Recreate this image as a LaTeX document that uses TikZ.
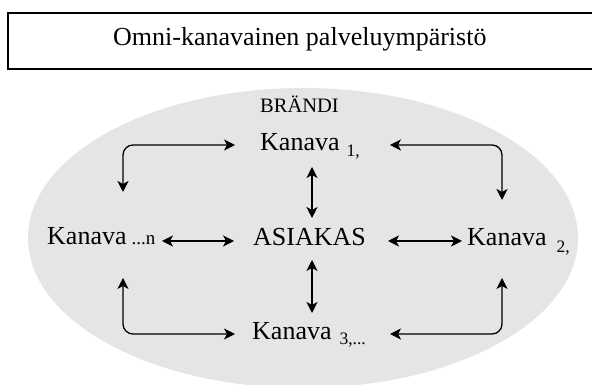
\documentclass[tikz,border=0pt]{standalone}
\usepackage{fontspec}
\setmainfont{Liberation Serif}
\usetikzlibrary{arrows.meta}
\begin{document}
\begin{tikzpicture}[x=1pt,y=1pt,
  lbl/.style={inner sep=0pt,anchor=base west,font=\fontsize{26}{30}\selectfont},
  link/.style={line width=1.3pt,{Stealth[length=11pt,width=11pt,inset=3pt]}-{Stealth[length=11pt,width=11pt,inset=3pt]}},
  cornerlink/.style={link,rounded corners=10pt}]
\newcommand{\lowered}[3]{\hspace{#1pt}\raisebox{-#2pt}{\fontsize{17.5}{20}\selectfont #3}}
\useasboundingbox (0,0) rectangle (592,385);
% title frame
\draw[line width=1.4pt] (8,316) rectangle (600,372);
\node[lbl] (title) at (113,339) {Omni-kanavainen palveluympäristö};
% brand area
\fill[gray!20] (303,147) ellipse [x radius=275, y radius=150];
\node[lbl,font=\fontsize{20.5}{24}\selectfont] (brand) at (260,272) {BRÄNDI};
% channels and customer
\node[lbl] (k1) at (260,234) {Kanava\lowered{7}{6}{1,}};
\node[lbl] (cust) at (253,139) {ASIAKAS};
\node[lbl] (kn) at (47,140) {Kanava\hspace{5pt}{\fontsize{19}{22}\selectfont ...n}};
\node[lbl] (k2) at (467,139) {Kanava\lowered{10}{7}{2,}};
\node[lbl] (k3) at (252,45) {Kanava\lowered{8}{5}{3,...}};
% arrow end points
\coordinate (tlA) at (123,193);
\coordinate (tlB) at (235,240);
\coordinate (trA) at (390,240);
\coordinate (trB) at (502,185);
\coordinate (blA) at (123,107);
\coordinate (blB) at (235,51);
\coordinate (brA) at (390,51);
\coordinate (brB) at (502,107);
\coordinate (vtA) at (312,218);
\coordinate (vtB) at (312,167);
\coordinate (vbA) at (312,125);
\coordinate (vbB) at (312,72);
\coordinate (hlA) at (162,144);
\coordinate (hlB) at (234,144);
\coordinate (hrA) at (388,144);
\coordinate (hrB) at (462,144);
% connectors
\draw[cornerlink] (tlA) |- (tlB);
\draw[cornerlink] (trA) -| (trB);
\draw[cornerlink] (blA) |- (blB);
\draw[cornerlink] (brA) -| (brB);
\draw[link] (vtA) -- (vtB);
\draw[link] (vbA) -- (vbB);
\draw[link] (hlA) -- (hlB);
\draw[link] (hrA) -- (hrB);
\end{tikzpicture}
\end{document}
